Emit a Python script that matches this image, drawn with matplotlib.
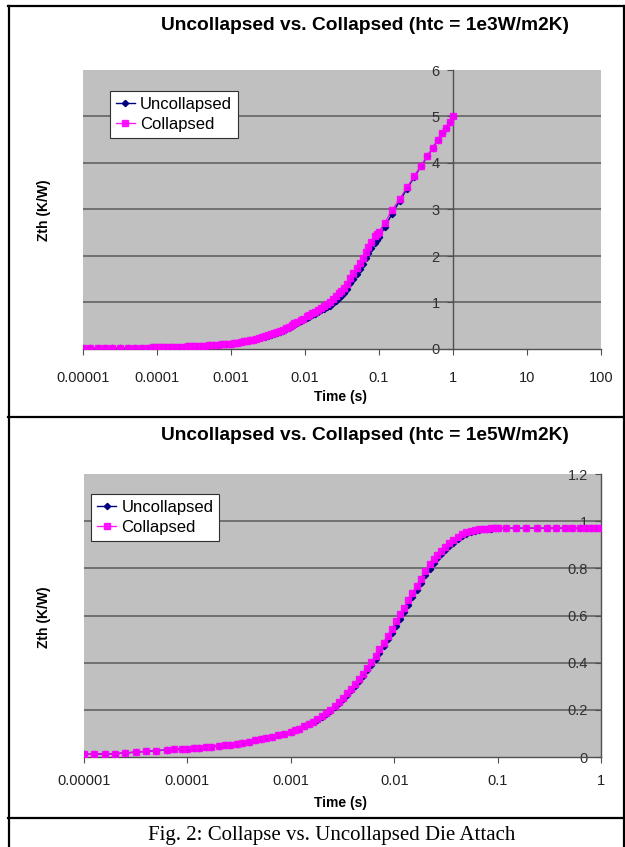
import matplotlib
matplotlib.use("Agg")
import matplotlib.pyplot as plt
from matplotlib.lines import Line2D

plt.rcParams["font.family"] = ["Liberation Sans", "DejaVu Sans"]

# Shared simulation time steps (s)
time_s = [
    1e-5, 1.25e-5, 1.6e-5, 2e-5, 2.5e-5, 3.2e-5, 4e-5, 5e-5, 6.3e-5, 7.5e-5,
    8.8e-5, 1e-4, 1.15e-4, 1.3e-4, 1.5e-4, 1.7e-4, 2e-4, 2.3e-4, 2.6e-4, 3e-4,
    3.4e-4, 3.9e-4, 4.5e-4, 5.1e-4, 5.8e-4, 6.6e-4, 7.5e-4, 8.6e-4, 1e-3, 1.1e-3,
    1.2e-3, 1.35e-3, 1.5e-3, 1.65e-3, 1.8e-3, 2e-3, 2.2e-3, 2.4e-3, 2.65e-3, 2.9e-3,
    3.2e-3, 3.5e-3, 3.85e-3, 4.2e-3, 4.6e-3, 5e-3, 5.5e-3, 6e-3, 6.6e-3, 7.2e-3,
    7.9e-3, 8.7e-3, 9.5e-3, 0.0105, 0.0115, 0.0125, 0.0137, 0.015, 0.0165, 0.018,
    0.02, 0.022, 0.024, 0.026, 0.0285, 0.031, 0.034, 0.037, 0.041, 0.045,
    0.05, 0.055, 0.06, 0.066, 0.072, 0.079, 0.087, 0.095, 0.1, 0.12,
    0.15, 0.19, 0.24, 0.3, 0.37, 0.45, 0.53, 0.62, 0.71, 0.8,
    0.9, 1.0,
]

# htc = 1e3 W/m2K
zth_1e3_uncol = [
    0.018, 0.019, 0.020, 0.021, 0.022, 0.024, 0.025, 0.027, 0.029, 0.031,
    0.033, 0.035, 0.037, 0.039, 0.041, 0.044, 0.047, 0.050, 0.054, 0.058,
    0.062, 0.067, 0.073, 0.079, 0.085, 0.091, 0.098, 0.106, 0.115, 0.126,
    0.136, 0.151, 0.163, 0.174, 0.185, 0.197, 0.212, 0.230, 0.248, 0.266,
    0.285, 0.303, 0.323, 0.341, 0.362, 0.388, 0.422, 0.456, 0.491, 0.524,
    0.558, 0.595, 0.627, 0.658, 0.690, 0.722, 0.757, 0.792, 0.830, 0.862,
    0.895, 0.935, 0.99, 1.04, 1.095, 1.14, 1.20, 1.29, 1.41, 1.51,
    1.62, 1.73, 1.83, 1.96, 2.07, 2.17, 2.29, 2.35, 2.40, 2.62,
    2.91, 3.18, 3.45, 3.70, 3.93, 4.14, 4.32, 4.49, 4.64, 4.76,
    4.89, 5.0,
]
zth_1e3_col = [
    0.018, 0.019, 0.020, 0.021, 0.022, 0.024, 0.025, 0.027, 0.029, 0.031,
    0.033, 0.035, 0.037, 0.039, 0.041, 0.044, 0.047, 0.050, 0.054, 0.058,
    0.062, 0.067, 0.073, 0.079, 0.085, 0.091, 0.098, 0.106, 0.115, 0.127,
    0.137, 0.152, 0.165, 0.177, 0.187, 0.200, 0.220, 0.238, 0.259, 0.278,
    0.298, 0.317, 0.337, 0.355, 0.380, 0.410, 0.447, 0.480, 0.517, 0.550,
    0.585, 0.622, 0.655, 0.700, 0.735, 0.770, 0.806, 0.840, 0.880, 0.915,
    0.960, 1.01, 1.074, 1.13, 1.195, 1.254, 1.31, 1.40, 1.52, 1.625,
    1.74, 1.85, 1.96, 2.09, 2.20, 2.30, 2.42, 2.48, 2.52, 2.72,
    2.98, 3.23, 3.48, 3.72, 3.94, 4.15, 4.32, 4.49, 4.64, 4.76,
    4.89, 5.0,
]

# htc = 1e5 W/m2K
zth_1e5_uncol = [
    0.011, 0.012, 0.013, 0.014, 0.017, 0.021, 0.024, 0.027, 0.030, 0.032,
    0.034, 0.036, 0.038, 0.040, 0.042, 0.044, 0.047, 0.050, 0.053, 0.057,
    0.061, 0.065, 0.070, 0.075, 0.080, 0.086, 0.092, 0.099, 0.107, 0.113,
    0.120, 0.130, 0.140, 0.149, 0.159, 0.171, 0.184, 0.196, 0.212, 0.228,
    0.246, 0.263, 0.282, 0.301, 0.322, 0.343, 0.367, 0.390, 0.417, 0.442,
    0.470, 0.499, 0.526, 0.557, 0.587, 0.615, 0.646, 0.677, 0.709, 0.737,
    0.771, 0.799, 0.824, 0.842, 0.860, 0.877, 0.894, 0.909, 0.925, 0.937,
    0.947, 0.953, 0.958, 0.962, 0.965, 0.967, 0.968, 0.969, 0.970, 0.970,
    0.970, 0.970, 0.970, 0.970, 0.970, 0.970, 0.970, 0.970, 0.970, 0.970,
    0.970, 0.970,
]
zth_1e5_col = [
    0.011, 0.012, 0.013, 0.014, 0.017, 0.021, 0.024, 0.027, 0.030, 0.032,
    0.034, 0.036, 0.038, 0.040, 0.042, 0.044, 0.047, 0.050, 0.053, 0.057,
    0.061, 0.065, 0.070, 0.075, 0.080, 0.086, 0.092, 0.099, 0.107, 0.113,
    0.120, 0.130, 0.140, 0.150, 0.160, 0.173, 0.187, 0.200, 0.217, 0.233,
    0.252, 0.270, 0.290, 0.310, 0.332, 0.353, 0.378, 0.402, 0.430, 0.456,
    0.485, 0.515, 0.543, 0.575, 0.605, 0.633, 0.664, 0.695, 0.727, 0.755,
    0.790, 0.818, 0.840, 0.855, 0.873, 0.890, 0.906, 0.920, 0.934, 0.945,
    0.953, 0.958, 0.962, 0.965, 0.967, 0.968, 0.969, 0.970, 0.970, 0.970,
    0.970, 0.970, 0.970, 0.970, 0.970, 0.970, 0.970, 0.970, 0.970, 0.970,
    0.970, 0.970,
]

charts = [
    {
        "title": "Uncollapsed vs. Collapsed (htc = 1e3W/m2K)",
        "uncol": zth_1e3_uncol,
        "col": zth_1e3_col,
        "xticks": [1e-5, 1e-4, 1e-3, 1e-2, 1e-1, 1, 10, 100],
        "xlabels": ["0.00001", "0.0001", "0.001", "0.01", "0.1", "1", "10", "100"],
        "yticks": [0, 1, 2, 3, 4, 5, 6],
        "ylabels": ["0", "1", "2", "3", "4", "5", "6"],
    },
    {
        "title": "Uncollapsed vs. Collapsed (htc = 1e5W/m2K)",
        "uncol": zth_1e5_uncol,
        "col": zth_1e5_col,
        "xticks": [1e-5, 1e-4, 1e-3, 1e-2, 1e-1, 1],
        "xlabels": ["0.00001", "0.0001", "0.001", "0.01", "0.1", "1"],
        "yticks": [0, 0.2, 0.4, 0.6, 0.8, 1.0, 1.2],
        "ylabels": ["0", "0.2", "0.4", "0.6", "0.8", "1", "1.2"],
    },
]

W, H = 625, 847
fig = plt.figure(figsize=(W / 100, H / 100), dpi=100)

def fx(px):
    return px / W

def fy(py):
    return 1 - py / H

# axes rectangles in pixels: left, right, top, bottom
rects = [(83, 601, 70, 349), (84, 601, 474, 757)]
legend_anchor = [(0.052, 0.923), (0.0145, 0.928)]
title_y = [25, 435]
xlabel_y = [397, 803]
ylabel_y = [210, 617]
xpad = [12, 8.5]

navy = "#000080"
magenta = "#ff00ff"
axcol = "#505050"

for i, ch in enumerate(charts):
    l, r, t, b = rects[i]
    ax = fig.add_axes([fx(l), fy(b), fx(r) - fx(l), fy(t) - fy(b)])
    ax.set_facecolor("#c0c0c0")
    ax.set_xscale("log")
    ax.set_xlim(ch["xticks"][0], ch["xticks"][-1])
    ax.set_ylim(ch["yticks"][0], ch["yticks"][-1])

    ax.plot(time_s, ch["uncol"], color=navy, lw=1, marker="D", ms=3.2,
            mec=navy, mfc=navy, label="Uncollapsed", zorder=3)
    ax.plot(time_s, ch["col"], color=magenta, lw=1, marker="s", ms=3.8,
            mec=magenta, mfc=magenta, label="Collapsed", zorder=4, alpha=0.9)

    ax.set_xticks(ch["xticks"])
    ax.set_xticklabels(ch["xlabels"])
    ax.xaxis.set_minor_locator(matplotlib.ticker.NullLocator())
    ax.set_yticks(ch["yticks"])
    ax.set_yticklabels(ch["ylabels"])

    for s in ["top", "right"]:
        ax.spines[s].set_visible(False)
    ax.spines["left"].set_position(("data", 1))
    ax.spines["left"].set_color(axcol)
    ax.spines["bottom"].set_color(axcol)
    ax.spines["left"].set_linewidth(1.0)
    ax.spines["bottom"].set_linewidth(1.0)

    ax.tick_params(axis="x", direction="out", length=4, color=axcol,
                   labelsize=10.5, pad=xpad[i], labelcolor="#202020")
    ax.tick_params(axis="y", direction="out", length=4, color=axcol,
                   labelsize=10.5, pad=5.5, labelcolor="#303030")

    ax.yaxis.grid(True, color="#6a6a6a", lw=1.3)
    ax.xaxis.grid(False)
    ax.set_axisbelow(True)
    gl = ax.yaxis.get_gridlines()
    gl[0].set_visible(False)
    gl[-1].set_visible(False)

    leg = ax.legend(loc="upper left", bbox_to_anchor=legend_anchor[i],
                    fontsize=12, frameon=True, fancybox=False, framealpha=1,
                    edgecolor="#303030", handlelength=1.15, handletextpad=0.3,
                    borderpad=0.35, labelspacing=0.3, borderaxespad=0)
    leg.get_frame().set_linewidth(0.8)

    fig.text(fx(365), fy(title_y[i]), ch["title"], ha="center", va="center",
             fontsize=13.8, fontweight="bold")
    fig.text(fx(341), fy(xlabel_y[i]), "Time (s)", ha="center", va="center",
             fontsize=10, fontweight="bold")
    fig.text(fx(44), fy(ylabel_y[i]), "Zth (K/W)", ha="center", va="center",
             fontsize=10, fontweight="bold", rotation=90)

fig.text(fx(332), fy(835), "Fig. 2: Collapse vs. Uncollapsed Die Attach",
         ha="center", va="center", fontsize=15,
         family=["Liberation Serif", "DejaVu Serif"])

# table-like frame around the figure
lw = 1.6
fig.add_artist(Line2D([fx(8.5), fx(8.5)], [fy(6.5), 0], color="black", lw=lw))
fig.add_artist(Line2D([fx(623.5), fx(623.5)], [fy(6.5), 0], color="black", lw=lw))
for yy in [6.5, 417, 818]:
    fig.add_artist(Line2D([fx(8), 1], [fy(yy), fy(yy)], color="black", lw=lw))

fig.savefig("out.png", dpi=100)
